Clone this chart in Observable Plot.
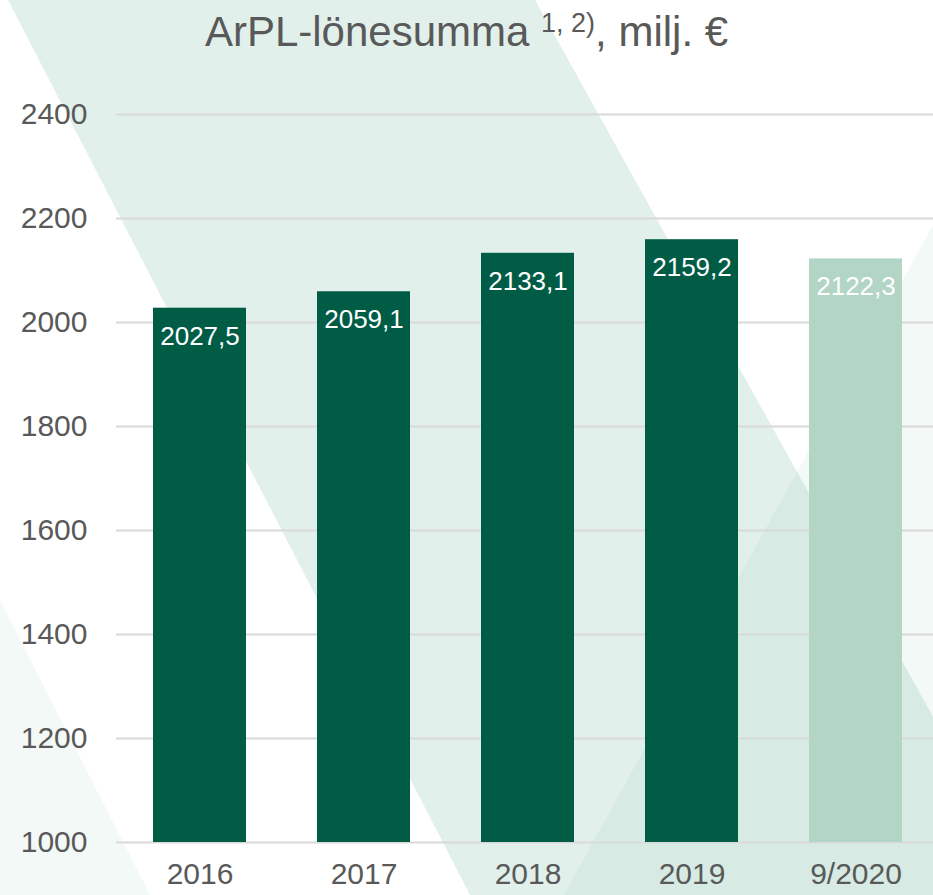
<!DOCTYPE html>
<html>
<head>
<meta charset="utf-8">
<script src="https://cdn.jsdelivr.net/npm/d3@7"></script>
<script src="https://cdn.jsdelivr.net/npm/@observablehq/plot@0.6"></script>
<style>
  html, body { margin: 0; padding: 0; background: #ffffff; }
  #wrap { position: relative; width: 933px; height: 895px; overflow: hidden; font-family: "Liberation Sans", Arial, sans-serif; }
  #bg { position: absolute; left: 0; top: 0; }
  #title { position: absolute; left: 0; top: 11px; width: 933px; text-align: center; font-size: 42px; line-height: 42px; color: #595959; white-space: nowrap; }
  #title .sup { font-size: 27px; position: relative; top: -14px; }
  #chart { position: absolute; left: 0; top: 0; }
</style>
</head>
<body>
<div id="wrap">
  <svg id="bg" width="933" height="895" viewBox="0 0 933 895">
    <!-- decorative diagonal background stripes -->
    <polygon points="8,0 535,0 1032,895 470,895" fill="rgb(13,130,88)" fill-opacity="0.12"/>
    <polygon points="1057,0 1400,0 1400,895 564,895" fill="rgb(13,130,88)" fill-opacity="0.05"/>
    <polygon points="0,600 150,895 0,895" fill="rgb(13,130,88)" fill-opacity="0.05"/>
  </svg>
  <div id="title">ArPL-lönesumma <span class="sup">1, 2)</span>, milj. €</div>
  <div id="chart"></div>
</div>
<script>
const years = ["2016", "2017", "2018", "2019", "9/2020"];
const values = [2027.5, 2059.1, 2133.1, 2159.2, 2122.3];
const valueLabels = ["2027,5", "2059,1", "2133,1", "2159,2", "2122,3"];
const status = ["final", "final", "final", "final", "preliminary"];
const yTicks = [1000, 1200, 1400, 1600, 1800, 2000, 2200, 2400];

const data = years.map((year, i) => ({year, value: values[i], label: valueLabels[i], status: status[i]}));

const chart = Plot.plot({
  width: 933,
  height: 895,
  marginTop: 114,
  marginBottom: 53,
  marginLeft: 116,
  marginRight: 0,
  style: {background: "transparent", fontFamily: "'Liberation Sans', Arial, sans-serif", fontSize: "30px", color: "#595959"},
  x: {domain: years, paddingInner: 0.43, paddingOuter: 0.2, align: 0.55, label: null, tickSize: 0, tickPadding: 20},
  y: {domain: [1000, 2400], ticks: yTicks, tickFormat: "d", label: null, tickSize: 0, tickPadding: 29},
  color: {domain: ["final", "preliminary"], range: ["#005c45", "#b2d5c5"]},
  marks: [
    Plot.ruleY(yTicks, {stroke: "#d9d9d9", strokeWidth: 2}),
    Plot.barY(data, {x: "year", y1: 1000, y2: "value", fill: "status"}),
    Plot.text(data, {x: "year", y: "value", text: "label", dy: 28, fill: "#ffffff", fontSize: 26})
  ]
});
document.getElementById("chart").appendChild(chart);
</script>
</body>
</html>
